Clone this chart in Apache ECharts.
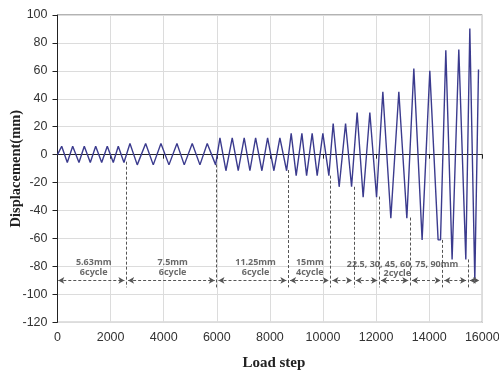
<!DOCTYPE html>
<html><head><meta charset="utf-8">
<script src="https://cdn.jsdelivr.net/npm/echarts@6/dist/echarts.min.js"></script>
<style>html,body{margin:0;padding:0;background:#fff}#c{width:499px;height:374px}</style>
</head><body><div id="c"></div>
<script>
// Wave vertices (load step, displacement mm)
const loadStep = [0,158,369,572,809,1009,1235,1438,1664,1875,2101,2289,2503,
  2729,3004,3320,3607,3896,4198,4499,4774,5075,5365,5640,5956,
  6118,6344,6581,6807,7032,7247,7462,7699,7913,8151,8376,8629,
  8802,8990,9205,9382,9592,9781,9995,10221,
  10383,10609,10850,11076,
  11286,11512,11764,12017,
  12254,12555,12856,13158,
  13421,13733,14023,14336,14426,
  14626,14863,15115,15379,
  15530,15718,15857];
const displacement = [0,6,-5.6,6,-5.6,6,-5.6,6,-5.6,6,-5.6,6,-5.6,
  8,-7.3,8,-7.3,8,-7.3,8,-7.3,8,-7.3,8,-7.3,
  12,-11.5,12,-11.5,12,-11.5,12,-11.5,12,-11.5,12,-11.5,
  15.3,-15,15.3,-15,15.3,-15,15.3,-15,
  22.3,-23,22.3,-23,
  30.2,-30.5,30.2,-30.5,
  45,-45.5,45,-45.5,
  61.7,-61,60,-61,-61,
  74.8,-75,75.3,-75,
  90.3,-90,61];

// Stage dividers
const dividerStep = [2590,5993,8690,10286,11163,12114,13282,14501,15460];
const dividerTop = [-5,-7,-11,-15,-23,-30,-45,-61,-75];
const dividerBottom = -95;
// Arrow row bounds
const arrowBounds = [30,2590,5993,8690,10286,11163,12114,13282,14501,15460,15955];
const arrowLevel = -90;

// Annotation texts
const labelText = ['5.63mm','6cycle','7.5mm','6cycle','11.25mm','6cycle','15mm','4cycle','22.5, 30, 45, 60, 75, 90mm','2cycle'];
const labelStep = [1363,1363,4337,4337,7460,7460,9506,9506,12995,12800];
const labelDisp = [-77,-84.3,-77,-84.3,-77,-84.3,-77,-84.6,-78.3,-85];

const xTicks = [0,2000,4000,6000,8000,10000,12000,14000,16000];
const yTicks = [-120,-100,-80,-60,-40,-20,0,20,40,60,80,100];

const chart = echarts.init(document.getElementById('c'));
const gap = 70;
const arrowData = [];
for (let i = 0; i < arrowBounds.length - 1; i++) {
  arrowData.push([{coord:[arrowBounds[i] + (i===0?0:gap), arrowLevel]},{coord:[arrowBounds[i+1]-gap, arrowLevel]}]);
}
const divData = dividerStep.map((s,i)=>[{coord:[s,dividerTop[i]]},{coord:[s,dividerBottom]}]);

chart.setOption({
  animation:false,
  grid:{left:57.5,right:16.7,top:15,bottom:51.7,containLabel:false,outerBoundsMode:'none',
    show:true,borderColor:'#666',borderWidth:1},
  xAxis:{type:'value',min:xTicks[0],max:xTicks[xTicks.length-1],interval:2000,
    name:'Load step',nameLocation:'middle',nameGap:33,nameMoveOverlap:false,
    nameTextStyle:{fontFamily:'Liberation Serif',fontWeight:'bold',fontSize:15,color:'#222',padding:[0,0,0,8]},
    axisLine:{show:true,lineStyle:{color:'#222',width:1}},
    axisTick:{show:true,inside:false,length:4,lineStyle:{color:'#222'}},
    axisLabel:{fontFamily:'Liberation Sans',fontSize:12.5,color:'#333',margin:9,formatter:v=>String(v)},
    splitLine:{show:true,lineStyle:{color:'#dcdcdc',width:1}}},
  yAxis:{type:'value',min:yTicks[0],max:yTicks[yTicks.length-1],interval:20,
    name:'Displacement(mm)',nameLocation:'middle',nameGap:34,nameMoveOverlap:false,
    nameTextStyle:{fontFamily:'Liberation Serif',fontWeight:'bold',fontSize:14.5,color:'#222'},
    axisLine:{show:true,lineStyle:{color:'#222',width:1}},
    axisTick:{show:true,inside:false,length:5,lineStyle:{color:'#222'}},
    axisLabel:{fontFamily:'Liberation Sans',fontSize:12.5,color:'#333',margin:10,formatter:v=>String(v)},
    splitLine:{show:true,lineStyle:{color:'#dcdcdc',width:1}}},
  series:[
    {type:'line',data:loadStep.map((s,i)=>[s,displacement[i]]),showSymbol:false,
     lineStyle:{color:'#3b3b8e',width:1.4},z:3,
     markLine:{silent:true,symbol:'none',animation:false,
       lineStyle:{type:[3,2],color:'#555',width:1},label:{show:false},data:divData}},
    {type:'line',data:[],
     markLine:{silent:true,symbol:['arrow','arrow'],symbolSize:[5,6],animation:false,
       lineStyle:{type:[3,2],color:'#555',width:1},label:{show:false},data:arrowData}},
    {type:'scatter',symbolSize:0,z:5,
     data:labelStep.map((s,i)=>[s,labelDisp[i],labelText[i]]),
     label:{show:true,position:'inside',formatter:p=>p.data[2],
       fontFamily:'Noto Sans',fontSize:9,fontWeight:'bold',color:'#444'}}
  ]
});
</script></body></html>
